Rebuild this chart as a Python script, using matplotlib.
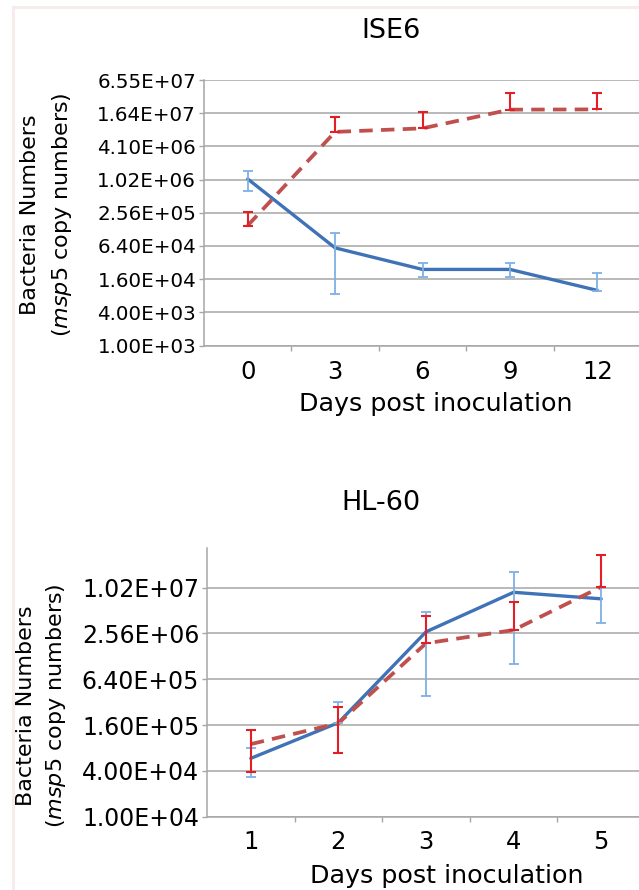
import matplotlib.pyplot as plt
from matplotlib.ticker import FixedLocator, FixedFormatter, NullFormatter, NullLocator
from matplotlib.lines import Line2D

# ---- data ----
ise6_days = ['0', '3', '6', '9', '12']
ise6_blue = [1.05e6, 5.9e4, 2.4e4, 2.4e4, 1.0e4]
ise6_blue_lo = [6.4e5, 8.6e3, 1.75e4, 1.75e4, 9.6e3]
ise6_blue_hi = [1.46e6, 1.10e5, 3.1e4, 3.1e4, 2.06e4]
ise6_red = [1.5e5, 7.5e6, 8.7e6, 1.9e7, 1.92e7]
ise6_red_lo = [1.5e5, 7.5e6, 8.7e6, 1.9e7, 1.92e7]
ise6_red_hi = [2.66e5, 1.4e7, 1.7e7, 3.8e7, 3.8e7]
ise6_yticks = [1.0e3, 4.0e3, 1.6e4, 6.4e4, 2.56e5, 1.024e6, 4.096e6, 1.6384e7, 6.5536e7]

hl60_days = ['1', '2', '3', '4', '5']
hl60_blue = [5.85e4, 1.72e5, 2.69e6, 8.9e6, 7.3e6]
hl60_blue_lo = [3.3e4, 1.70e5, 3.85e5, 1.02e6, 3.5e6]
hl60_blue_hi = [7.9e4, 3.25e5, 4.87e6, 1.63e7, 1.05e7]
hl60_red = [9.0e4, 1.69e5, 1.9e6, 2.84e6, 1.05e7]
hl60_red_lo = [3.9e4, 6.9e4, 1.9e6, 2.84e6, 1.05e7]
hl60_red_hi = [1.39e5, 2.74e5, 4.38e6, 6.55e6, 2.74e7]
hl60_yticks = [1.0e4, 4.0e4, 1.6e5, 6.4e5, 2.56e6, 1.024e7]

BLUE = '#3F72B6'
BLUE_ERR = '#7EB0E6'
RED = '#C0504D'
RED_ERR = '#E31E24'
GRID = '#A6A6A6'


def draw_panel(ax, days, blue, blue_lo, blue_hi, red, red_lo, red_hi,
               yticks, ylim, ytick_size, xpad):
    x = list(range(len(days)))
    ax.set_yscale('log')

    # blue series (solid)
    ax.plot(x, blue, color=BLUE, lw=2.4, zorder=3, solid_capstyle='round')
    ax.errorbar(x, blue, yerr=[[b - lo for b, lo in zip(blue, blue_lo)],
                               [hi - b for b, hi in zip(blue, blue_hi)]],
                fmt='none', ecolor=BLUE_ERR, elinewidth=1.3, capsize=3.5,
                capthick=1.3, zorder=4)

    # red series (dashed)
    ax.plot(x, red, color=RED, lw=2.7, ls=(0, (3.6, 2.2)), zorder=3)
    ax.errorbar(x, red, yerr=[[r - lo for r, lo in zip(red, red_lo)],
                              [hi - r for r, hi in zip(red, red_hi)]],
                fmt='none', ecolor=RED_ERR, elinewidth=1.5, capsize=3.5,
                capthick=1.5, zorder=4)

    ax.set_xlim(-0.5, len(days) - 0.5)
    ax.set_ylim(*ylim)

    # category axis: ticks between categories, labels at centers
    ax.xaxis.set_major_locator(FixedLocator([i + 0.5 for i in x[:-1]]))
    ax.xaxis.set_major_formatter(NullFormatter())
    ax.xaxis.set_minor_locator(FixedLocator(x))
    ax.xaxis.set_minor_formatter(FixedFormatter(days))
    ax.tick_params(axis='x', which='major', length=3.6, width=1, color=GRID)
    ax.tick_params(axis='x', which='minor', length=0, pad=xpad, labelsize=17.5)

    ax.yaxis.set_major_locator(FixedLocator(yticks))
    ax.yaxis.set_major_formatter(FixedFormatter(['%.2E' % v for v in yticks]))
    ax.yaxis.set_minor_locator(NullLocator())
    ax.tick_params(axis='y', length=3.6, width=1, color=GRID, pad=2,
                   labelsize=ytick_size)

    ax.yaxis.grid(True, color=GRID, lw=1.1)
    ax.set_axisbelow(True)
    for s in ['top', 'right']:
        ax.spines[s].set_visible(False)
    for s in ['left', 'bottom']:
        ax.spines[s].set_color(GRID)
        ax.spines[s].set_linewidth(1.1)


W, H = 639, 890
fig = plt.figure(figsize=(W / 100, H / 100), dpi=100)

# faint frame of the original scan
fig.add_artist(Line2D([13 / W, 13 / W], [0, 1 - 7 / H], color='#F7ECEC', lw=2.2))
fig.add_artist(Line2D([13 / W, 1], [1 - 7 / H, 1 - 7 / H], color='#F7ECEC', lw=2.2))

ax1 = fig.add_axes([204 / W, 1 - 345.5 / H, (641 - 204) / W, (345.5 - 80) / H])
draw_panel(ax1, ise6_days, ise6_blue, ise6_blue_lo, ise6_blue_hi,
           ise6_red, ise6_red_lo, ise6_red_hi,
           ise6_yticks, (1.0e3, 6.5536e7), 14.3, 10.2)

ax2 = fig.add_axes([207 / W, 1 - 816.7 / H, (645 - 207) / W, (816.7 - 548) / H])
draw_panel(ax2, hl60_days, hl60_blue, hl60_blue_lo, hl60_blue_hi,
           hl60_red, hl60_red_lo, hl60_red_hi,
           hl60_yticks, (1.0e4, 3.4e7), 17, 9.4)

# titles
fig.text(391 / W, 1 - 38 / H, 'ISE6', fontsize=19.5, ha='center', va='baseline')
fig.text(381 / W, 1 - 510 / H, 'HL-60', fontsize=19.5, ha='center', va='baseline')

# axis labels
fig.text(436 / W, 1 - 411 / H, 'Days post inoculation', fontsize=18.3,
         ha='center', va='baseline')
fig.text(447 / W, 1 - 883 / H, 'Days post inoculation', fontsize=18.3,
         ha='center', va='baseline')

for yc, x1, x2 in [(215, 30, 62), (706, 26, 56)]:
    fig.text(x1 / W, 1 - yc / H, 'Bacteria Numbers', rotation=90,
             fontsize=16, ha='center', va='center')
    fig.text(x2 / W, 1 - yc / H, r'($\it{msp5}$ copy numbers)', rotation=90,
             fontsize=16, ha='center', va='center')

fig.savefig('out.png', dpi=100)
